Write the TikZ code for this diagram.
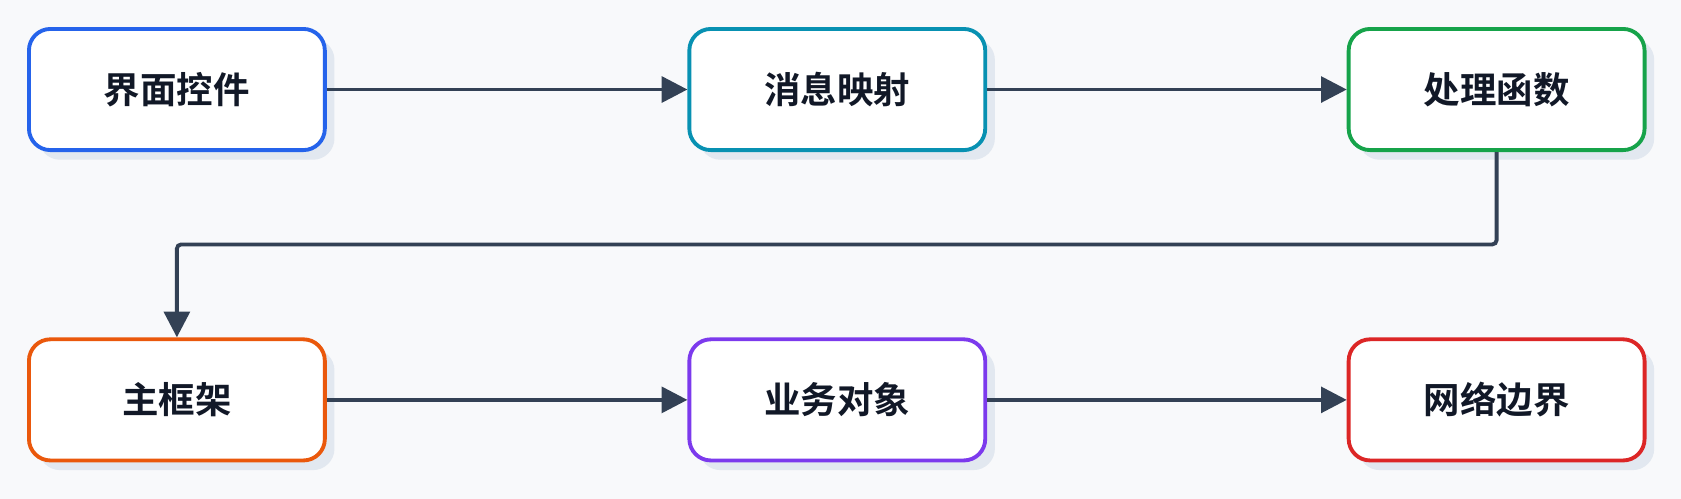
\documentclass[tikz,border=0pt]{standalone}
\usepackage{fontspec}
\newfontfamily\cjk{Noto Sans CJK SC}[BoldFont={Noto Sans CJK SC Bold}]
\usetikzlibrary{arrows.meta}
\definecolor{bg}{HTML}{F8F9FB}
\definecolor{shd}{HTML}{E2E8F0}
\definecolor{ln}{HTML}{334155}
\definecolor{txt}{HTML}{111827}
\definecolor{cA}{HTML}{2563EB}
\definecolor{cB}{HTML}{0891B2}
\definecolor{cC}{HTML}{16A34A}
\definecolor{cD}{HTML}{EA580C}
\definecolor{cE}{HTML}{7C3AED}
\definecolor{cF}{HTML}{DC2626}
\begin{document}
\begin{tikzpicture}[x=0.5pt,y=-0.5pt,
  box/.style={draw=#1,line width=1.8pt,fill=white,rounded corners=10pt,minimum width=138pt,minimum height=56.5pt,inner sep=0pt,font=\cjk\bfseries\fontsize{17}{19}\selectfont,text=txt},
  shadow/.style={fill=shd,rounded corners=10pt,minimum width=138pt,minimum height=56.5pt,inner sep=0pt},
  conn/.style={draw=ln,line width=1.8pt,-{Triangle[length=12pt,width=12pt]}}]
\fill[bg] (0,0) rectangle (1568,465);
\useasboundingbox (0,0) rectangle (1568,465);
\foreach \x/\y in {165/83.5,781/83.5,1396/83.5,165/373,781/373,1396/373}
  \node[shadow] at (\x+9,\y+9) {};
\node[box=cA] (a) at (165,83.5) {界面控件};
\node[box=cB] (b) at (781,83.5) {消息映射};
\node[box=cC] (c) at (1396,83.5) {处理函数};
\node[box=cD] (d) at (165,373) {主框架};
\node[box=cE] (e) at (781,373) {业务对象};
\node[box=cF] (f) at (1396,373) {网络边界};
\coordinate (k1) at (1396,228);
\coordinate (k2) at (165,228);
\draw[conn] (a) -- (b);
\draw[conn] (b) -- (c);
\draw[conn,rounded corners=2pt] (c) -- (k1) -- (k2) -- (d);
\draw[conn] (d) -- (e);
\draw[conn] (e) -- (f);
\end{tikzpicture}
\end{document}
